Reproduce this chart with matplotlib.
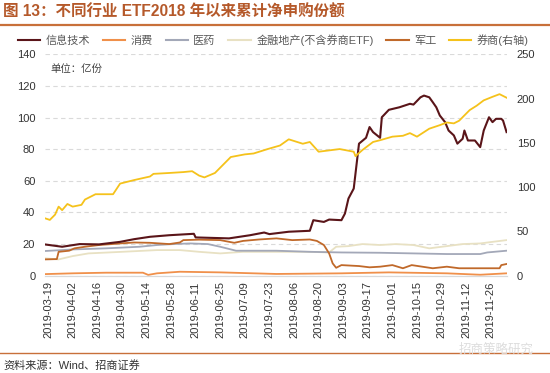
import numpy as np
import pandas as pd
import matplotlib
matplotlib.use("Agg")
import matplotlib.pyplot as plt
from matplotlib.lines import Line2D

plt.rcParams['font.family'] = ['Liberation Sans', 'Noto Sans CJK SC', 'DejaVu Sans']

# DATA (left axis unless noted)
it_dates = ["2019-03-17", "2019-03-27", "2019-04-06", "2019-04-17", "2019-04-29", "2019-05-07",
            "2019-05-16", "2019-05-27", "2019-06-10", "2019-06-11", "2019-06-30", "2019-07-12",
            "2019-07-20", "2019-07-23", "2019-08-03", "2019-08-15", "2019-08-17", "2019-08-23",
            "2019-08-26", "2019-09-02", "2019-09-04", "2019-09-06", "2019-09-09", "2019-09-12",
            "2019-09-16", "2019-09-18", "2019-09-20", "2019-09-24", "2019-09-25", "2019-09-29",
            "2019-10-05", "2019-10-11", "2019-10-13", "2019-10-17", "2019-10-19", "2019-10-22",
            "2019-10-24", "2019-10-26", "2019-10-28", "2019-10-31", "2019-11-02", "2019-11-05",
            "2019-11-07", "2019-11-10", "2019-11-11", "2019-11-13", "2019-11-17", "2019-11-20",
            "2019-11-22", "2019-11-25", "2019-11-27", "2019-11-29", "2019-12-02", "2019-12-03",
            "2019-12-05"]
it_vals = [19.8, 18.3, 20.0, 19.8, 21.4, 23.1, 24.6, 25.6, 26.5, 24.2, 23.6, 25.6,
           27.3, 26.3, 27.8, 28.4, 35.1, 34.0, 35.5, 35.1, 39.3, 48.8, 55.1, 83.5,
           87.2, 94.0, 90.8, 87.2, 100.2, 104.9, 106.5, 108.7, 108.2, 112.8, 113.9, 112.8,
           109.7, 106.5, 101.3, 97.1, 91.8, 88.7, 83.5, 86.6, 91.8, 85.5, 85.5, 81.3,
           91.8, 100.2, 97.1, 99.2, 99.2, 98.1, 90.8]

cons_dates = ["2019-03-17", "2019-04-02", "2019-04-21", "2019-05-12", "2019-05-15", "2019-05-20",
              "2019-06-02", "2019-06-25", "2019-07-27", "2019-09-02", "2019-09-29", "2019-11-01",
              "2019-11-20", "2019-12-05"]
cons_vals = [1.0, 1.5, 1.9, 1.9, 0.5, 1.5, 2.5, 2.1, 1.1, 1.5, 2.1, 1.5, 0.6, 1.5]

med_dates = ["2019-03-17", "2019-04-02", "2019-04-21", "2019-05-10", "2019-05-20", "2019-05-29",
             "2019-06-08", "2019-06-18", "2019-06-25", "2019-07-04", "2019-07-27", "2019-08-15",
             "2019-09-02", "2019-09-24", "2019-10-13", "2019-11-01", "2019-11-20", "2019-11-24",
             "2019-12-05"]
med_vals = [15.6, 16.6, 17.3, 18.3, 19.4, 20.0, 20.4, 20.0, 18.3, 15.8, 15.8, 15.1,
            14.7, 14.5, 14.1, 13.7, 13.7, 14.7, 15.8]

fin_dates = ["2019-03-17", "2019-03-25", "2019-04-02", "2019-04-11", "2019-04-30", "2019-05-20",
             "2019-06-02", "2019-06-13", "2019-06-25", "2019-07-08", "2019-07-27", "2019-08-15",
             "2019-08-26", "2019-08-30", "2019-09-06", "2019-09-14", "2019-09-24", "2019-10-03",
             "2019-10-13", "2019-10-22", "2019-11-01", "2019-11-10", "2019-11-20", "2019-11-27",
             "2019-12-05"]
fin_vals = [11.0, 10.3, 12.4, 14.1, 15.1, 16.2, 16.2, 15.1, 14.1, 15.1, 15.1, 15.1,
            14.7, 18.3, 18.7, 20.0, 19.4, 20.0, 19.4, 17.3, 18.7, 20.0, 20.4, 21.4, 22.5]

mil_dates = ["2019-03-17", "2019-03-24", "2019-03-25", "2019-03-31", "2019-04-03", "2019-04-09",
             "2019-04-17", "2019-04-29", "2019-05-07", "2019-05-16", "2019-05-27", "2019-06-02",
             "2019-06-04", "2019-06-13", "2019-06-25", "2019-07-03", "2019-07-08", "2019-07-17",
             "2019-07-27", "2019-08-05", "2019-08-15", "2019-08-19", "2019-08-23", "2019-08-26",
             "2019-08-28", "2019-08-30", "2019-09-02", "2019-09-12", "2019-09-18", "2019-09-24",
             "2019-10-01", "2019-10-07", "2019-10-12", "2019-10-18", "2019-10-24", "2019-11-01",
             "2019-11-08", "2019-11-20", "2019-12-01", "2019-12-02", "2019-12-05"]
mil_vals = [10.3, 10.5, 15.1, 15.8, 17.3, 18.3, 19.4, 20.4, 21.0, 20.8, 20.0, 21.0,
            22.5, 22.8, 22.5, 20.8, 22.0, 22.9, 23.6, 22.5, 22.9, 22.0, 19.4, 14.1,
            7.8, 5.0, 6.7, 6.1, 5.3, 5.7, 6.7, 4.7, 6.7, 5.7, 4.7, 5.7,
            4.7, 4.7, 4.7, 6.7, 7.4]

# 券商 on the right axis
brk_dates = ["2019-03-17", "2019-03-20", "2019-03-23", "2019-03-25", "2019-03-27", "2019-03-30",
             "2019-04-02", "2019-04-07", "2019-04-09", "2019-04-15", "2019-04-25", "2019-04-29",
             "2019-05-07", "2019-05-16", "2019-05-18", "2019-05-27", "2019-06-04", "2019-06-09",
             "2019-06-13", "2019-06-16", "2019-06-22", "2019-07-01", "2019-07-09", "2019-07-14",
             "2019-07-22", "2019-07-29", "2019-08-03", "2019-08-11", "2019-08-15", "2019-08-20",
             "2019-09-01", "2019-09-09", "2019-09-10", "2019-09-14", "2019-09-20", "2019-09-24",
             "2019-10-01", "2019-10-07", "2019-10-11", "2019-10-15", "2019-10-22", "2019-10-28",
             "2019-11-01", "2019-11-05", "2019-11-08", "2019-11-14", "2019-11-18", "2019-11-22",
             "2019-11-27", "2019-12-01", "2019-12-05"]
brk_vals = [65, 63, 69, 78, 74, 81, 78, 80, 86, 92, 92, 104,
            108, 112, 115, 116, 117, 118, 113, 111, 116, 134, 137, 138,
            143, 147, 154, 149, 151, 140, 143, 140, 135, 142, 151, 153,
            157, 158, 161, 157, 166, 170, 173, 172, 175, 187, 192, 198,
            202, 205, 201]

tick_dates = pd.date_range("2019-03-19", "2019-11-26", freq="14D")

labels = ["信息技术", "消费", "医药", "金融地产(不含券商ETF)", "军工", "券商(右轴)"]
colors = ["#5A1519", "#F0904A", "#A3A8B8", "#E8E1C3", "#C0692A", "#F5C21B"]

fig = plt.figure(figsize=(5.5, 3.73), dpi=100)
ax = fig.add_axes([45 / 550, 1 - 275.7 / 373, 462 / 550, 221.4 / 373])
ax2 = ax.twinx()

lw = 1.3
ax.plot(pd.to_datetime(fin_dates), fin_vals, color=colors[3], lw=lw)
ax.plot(pd.to_datetime(med_dates), med_vals, color=colors[2], lw=lw)
ax.plot(pd.to_datetime(cons_dates), cons_vals, color=colors[1], lw=lw)
ax.plot(pd.to_datetime(mil_dates), mil_vals, color=colors[4], lw=lw)
ax.plot(pd.to_datetime(it_dates), it_vals, color=colors[0], lw=1.5, zorder=4)
ax2.plot(pd.to_datetime(brk_dates), brk_vals, color=colors[5], lw=lw)

ax.set_xlim(pd.Timestamp("2019-03-17 06:00"), pd.Timestamp("2019-12-05 06:00"))
ax.set_ylim(0, 140)
ax2.set_ylim(0, 250)
ax.set_yticks(np.arange(0, 141, 20))
ax2.set_yticks(np.arange(0, 251, 50))
ax.set_xticks(tick_dates)
ax.set_xticklabels([d.strftime("%Y-%m-%d") for d in tick_dates], rotation=90)

ax.grid(axis="y", color="#DADADA", linestyle=(0, (4, 3)), lw=0.8)
ax.set_axisbelow(True)
for a in (ax, ax2):
    for s in ("left", "right", "top"):
        a.spines[s].set_visible(False)
    a.spines["bottom"].set_color("#D9D9D9")
    a.tick_params(length=0, labelsize=8, colors="#333333", pad=7)
ax.tick_params(axis="x", pad=4)

ax.text(0.012, 0.935, "单位：亿份", transform=ax.transAxes, fontsize=7.5, color="#404040",
        va="center")

handles = [Line2D([], [], color=c, lw=1.5) for c in colors]
fig.legend(handles, labels, ncol=6, loc="center", bbox_to_anchor=(0.497, 1 - 40 / 373),
           frameon=False, fontsize=8, handlelength=2.0, handletextpad=0.5,
           columnspacing=1.15, labelcolor="#595959")

# title and rules
fig.text(0.006, 1 - 12 / 373, "图 13：不同行业 ETF2018 年以来累计净申购份额", fontsize=11.2,
         fontweight="bold", color="#B5592A", va="center")
fig.add_artist(Line2D([0, 1], [1 - 25 / 373, 1 - 25 / 373], color="#C8703A", lw=1.6))
fig.add_artist(Line2D([0, 1], [1 - 353 / 373, 1 - 353 / 373], color="#C8703A", lw=1.0))
fig.text(0.006, 1 - 365 / 373, "资料来源：Wind、招商证券", fontsize=8, color="#333333", va="center")
fig.text(0.97, 1 - 350 / 373, "招商策略研究", fontsize=9, color="#DDDDDD", va="center", ha="right")

fig.savefig("out.png", dpi=100)
